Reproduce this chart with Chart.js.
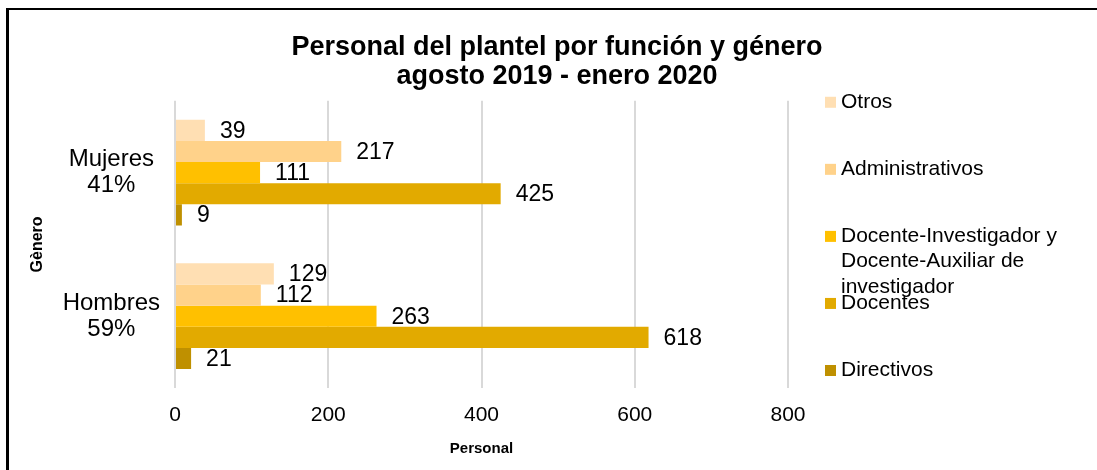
<!DOCTYPE html>
<html>
<head>
<meta charset="utf-8">
<script src="https://cdn.jsdelivr.net/npm/chart.js@4"></script>
<style>
  html, body { margin: 0; padding: 0; background: #fff; overflow: hidden; }
  #wrap { position: absolute; left: 0; top: 0; width: 1097px; height: 470px; }
  #frame { position: absolute; left: 6px; top: 8px; width: 1200px; height: 600px;
           border-left: 3px solid #000; border-top: 2px solid #000; pointer-events: none; }
</style>
</head>
<body>
<div id="wrap"><canvas id="personalChart" width="1097" height="470"></canvas></div>
<div id="frame"></div>
<script>
var generos = [['Mujeres', '41%'], ['Hombres', '59%']];
var funciones = ['Otros', 'Administrativos', 'Docente-Investigador y Docente-Auxiliar de investigador', 'Docentes', 'Directivos'];
var otros = [39, 129];
var administrativos = [217, 112];
var docenteInvestigador = [111, 263];
var docentes = [425, 618];
var directivos = [9, 21];
var colores = ['#ffdfb3', '#ffd28a', '#ffc000', '#e2aa00', '#bf9000'];

var FONT = "'Liberation Sans', Arial, sans-serif";

var valores = [otros, administrativos, docenteInvestigador, docentes, directivos];
var datasets = funciones.map(function (f, i) {
  return { label: f, data: valores[i], backgroundColor: colores[i], borderWidth: 0,
           categoryPercentage: 0.736, barPercentage: 1 };
});

// numbers to the right of every bar
var etiquetas = {
  id: 'etiquetas',
  afterDatasetsDraw: function (chart) {
    var ctx = chart.ctx;
    ctx.save();
    ctx.font = '23px ' + FONT;
    ctx.fillStyle = '#000';
    ctx.textAlign = 'left';
    ctx.textBaseline = 'middle';
    chart.data.datasets.forEach(function (ds, i) {
      chart.getDatasetMeta(i).data.forEach(function (bar, j) {
        ctx.fillText(String(ds.data[j]), bar.x + 15, bar.y + 1);
      });
    });
    ctx.restore();
  }
};

// legend on the right, wrapped text, evenly spread down the plot height
var leyenda = {
  id: 'leyenda',
  afterDraw: function (chart) {
    var ctx = chart.ctx, area = chart.chartArea;
    var x = area.right + 37;
    var paso = (area.bottom - area.top - 19) / 4;
    ctx.save();
    ctx.font = '21px ' + FONT;
    ctx.textBaseline = 'middle';
    ctx.textAlign = 'left';
    chart.data.datasets.forEach(function (ds, i) {
      var y = area.top + 1 + i * paso;
      ctx.fillStyle = ds.backgroundColor;
      ctx.fillRect(x, y - 5, 11, 11);
      var palabras = ds.label.split(' '), lineas = [], linea = '';
      palabras.forEach(function (p) {
        var prueba = linea ? linea + ' ' + p : p;
        if (ctx.measureText(prueba).width > 225 && linea) { lineas.push(linea); linea = p; }
        else linea = prueba;
      });
      lineas.push(linea);
      ctx.fillStyle = '#000';
      lineas.forEach(function (l, k) { ctx.fillText(l, x + 16, y + k * 25.5); });
    });
    ctx.restore();
  }
};

var ctx = document.getElementById('personalChart');
var personalChart = new Chart(ctx, {
  type: 'bar',
  data: { labels: generos, datasets: datasets },
  options: {
    indexAxis: 'y',
    responsive: false,
    animation: false,
    layout: { padding: { left: 17, right: 0, top: 10, bottom: 8 } },
    plugins: {
      legend: { display: false },
      tooltip: { enabled: false },
      title: {
        display: true,
        text: ['Personal del plantel por función y género', 'agosto 2019 - enero 2020'],
        color: '#000',
        font: { family: FONT, size: 27, weight: 'bold', lineHeight: 1.07 },
        padding: { top: 23, bottom: 10 }
      }
    },
    scales: {
      x: {
        min: 0, max: 800,
        ticks: { stepSize: 200, color: '#000', padding: 15, font: { family: FONT, size: 21 } },
        grid: { color: '#d9d9d9', lineWidth: 2, drawTicks: false },
        border: { display: false },
        title: { display: true, text: 'Personal', color: '#000',
                 font: { family: FONT, size: 15, weight: 'bold' }, padding: { top: 0, bottom: 4 } },
        afterFit: function (s) { s.height = 74; }
      },
      y: {
        ticks: { color: '#000', padding: 15, crossAlign: 'center',
                 font: { family: FONT, size: 24, lineHeight: 1.1 } },
        grid: { display: false, drawTicks: false },
        border: { display: false },
        title: { display: true, text: 'Gènero', color: '#000',
                 font: { family: FONT, size: 16, weight: 'bold' }, padding: { top: 11, bottom: 0 } },
        afterFit: function (s) { s.width = 158; }
      },
      // empty axis that keeps room for the legend
      y2: {
        type: 'linear', position: 'right', display: true,
        grid: { display: false }, border: { display: false }, ticks: { display: false },
        afterFit: function (s) { s.width = 309; }
      }
    }
  },
  plugins: [etiquetas, leyenda]
});
</script>
</body>
</html>
